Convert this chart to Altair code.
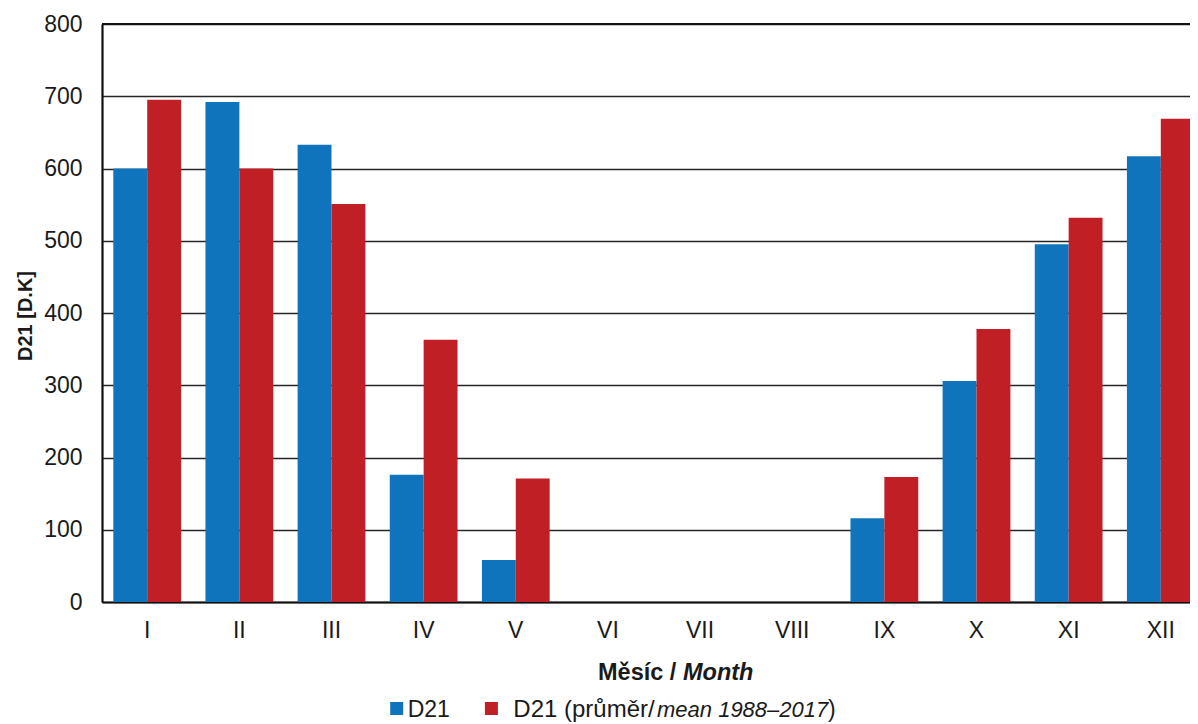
import altair as alt
import pandas as pd

months = ["I", "II", "III", "IV", "V", "VI", "VII", "VIII", "IX", "X", "XI", "XII"]
d21 = [600, 692, 633, 176, 58, 0, 0, 0, 116, 306, 495, 617]
d21_mean = [695, 600, 551, 363, 171, 0, 0, 0, 173, 378, 532, 669]
series_names = ["D21", "D21 (průměr/mean 1988–2017)"]
colors = ["#1074BC", "#C11F26"]
y_ticks = [0, 100, 200, 300, 400, 500, 600, 700, 800]

rows = []
for m, a, b in zip(months, d21, d21_mean):
    rows.append({"month": m, "series": series_names[0], "value": a})
    rows.append({"month": m, "series": series_names[1], "value": b})
df = pd.DataFrame(rows)

FONT = "Liberation Sans"
W, H = 1104, 578

bars = alt.Chart(df).mark_bar().encode(
    x=alt.X("month:N", sort=months,
            scale=alt.Scale(paddingInner=0.2645, paddingOuter=0.1228, range=[0, W], round=False),
            axis=alt.Axis(title=None, labelAngle=0, ticks=False, labelPadding=17,
                          labelFontSize=23, labelFont=FONT, labelColor="#1a1a1a",
                          domainColor="#111111", domainWidth=2.2, grid=False)),
    xOffset=alt.XOffset("series:N", sort=series_names, scale=alt.Scale(paddingInner=0, paddingOuter=0)),
    y=alt.Y("value:Q", scale=alt.Scale(domain=[0, 800], nice=False),
            axis=alt.Axis(title=None, values=y_ticks, ticks=False, labelPadding=20,
                          labelFontSize=23, labelFont=FONT, labelColor="#1a1a1a",
                          domainColor="#111111", domainWidth=2.2,
                          grid=True, gridColor="#262626", gridWidth=1.5)),
    color=alt.Color("series:N", sort=series_names,
                    scale=alt.Scale(domain=series_names, range=colors), legend=None),
)

top_rule = alt.Chart(pd.DataFrame({"v": [800]})).mark_rule(color="#111111", strokeWidth=2.2).encode(
    y=alt.Y("v:Q"), x=alt.value(0), x2=alt.value(W)
)

def txt(text, x, y, size=23, weight="normal", style="normal", align="left", angle=0, baseline="alphabetic"):
    kw = dict(text=text, fontSize=size, font=FONT, fontWeight=weight, fontStyle=style,
              align=align, baseline=baseline, color="#1a1a1a")
    if angle:
        kw["angle"] = angle
    return alt.Chart(pd.DataFrame({"a": [0]})).mark_text(**kw).encode(
        x=alt.value(x), y=alt.value(y))

def square(x, y, color):
    return alt.Chart(pd.DataFrame({"a": [0]})).mark_point(
        shape="square", filled=True, size=169, color=color, opacity=1).encode(
        x=alt.value(x), y=alt.value(y))

texts = [
    txt("D21 [D.K]", -76, 292, size=20, weight="bold", align="center", angle=270, baseline="middle"),
    txt("Měsíc /", 496, 656, size=23.5, weight="bold", align="left"),
    txt("Month", 581, 656, size=23.5, weight="bold", style="italic", align="left"),
    square(294.7, 684.5, colors[0]),
    txt("D21", 305.7, 692.5),
    square(389.4, 684.5, colors[1]),
    txt("D21 (průměr/", 411.3, 692.5, size=24),
    txt("mean 1988–2017", 555, 692.5, size=22, style="italic"),
    txt(")", 726, 692.5, align="left"),
]

# svg must stay within the page body (1182 px wide) so it is not rescaled
chart = alt.layer(bars, top_rule, *texts).properties(
    width=W, height=H,
    autosize=alt.AutoSizeParams(type="none"),
    padding={"left": 94, "top": 16, "right": -16, "bottom": 121},
).configure_view(stroke=None).configure(background="white")

chart.save("out.html", embed_options={"renderer": "svg", "actions": False})
